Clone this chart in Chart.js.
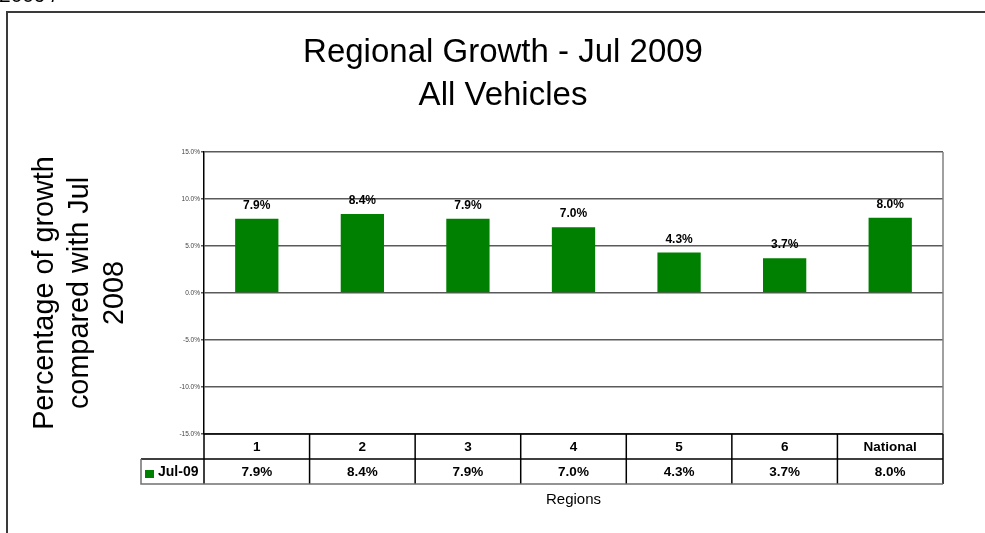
<!DOCTYPE html>
<html>
<head>
<meta charset="utf-8">
<title>Regional Growth - Jul 2009</title>
<script src="https://cdn.jsdelivr.net/npm/chart.js@4.4.0/dist/chart.umd.min.js"></script>
<style>
    html, body { margin: 0; padding: 0; background: #fff; }
    #chart { display: block; }
</style>
</head>
<body>
<canvas id="chart" width="985" height="533"></canvas>
<script>
// Chart data
const categories = ['1', '2', '3', '4', '5', '6', 'National'];
const growth = [7.9, 8.4, 7.9, 7.0, 4.3, 3.7, 8.0];
const seriesLabel = 'Jul-09';
const yTicks = [-15, -10, -5, 0, 5, 10, 15];
const titleLines = ['Regional Growth - Jul 2009', 'All Vehicles'];
const yTitleLines = ['Percentage of growth', 'compared with Jul', '2008'];
const xTitle = 'Regions';
const cutText = '2009 /';

const FONT = 'Arial, "Liberation Sans", Helvetica, sans-serif';
const GREEN = '#008000';

function pct(v) {
    return v.toFixed(1) + '%';
}

// Frame, titles, data labels, data table and axis caption
const decorPlugin = {
    id: 'decor',
    beforeDraw(chart) {
        const ctx = chart.ctx;
        ctx.save();
        ctx.fillStyle = '#000';
        ctx.font = '21px ' + FONT;
        ctx.textAlign = 'left';
        ctx.textBaseline = 'alphabetic';
        ctx.fillText(cutText, -1, 2);
        ctx.strokeStyle = '#3a3a3a';
        ctx.lineWidth = 2;
        ctx.strokeRect(7, 12, 1100, 700);

        // main title, centred on the frame
        ctx.font = '33px ' + FONT;
        ctx.textAlign = 'center';
        ctx.fillText(titleLines[0], 503, 62);
        ctx.fillText(titleLines[1], 503, 105);
        ctx.restore();
    },
    afterDatasetsDraw(chart) {
        const ctx = chart.ctx;
        const area = chart.chartArea;
        const x = chart.scales.x;
        const meta = chart.getDatasetMeta(0);
        ctx.save();

        // labels above the bars
        ctx.fillStyle = '#000';
        ctx.font = 'bold 12px ' + FONT;
        ctx.textAlign = 'center';
        ctx.textBaseline = 'alphabetic';
        meta.data.forEach((bar, i) => {
            ctx.fillText(pct(growth[i]), bar.x, bar.y - 10);
        });

        // right border of the plot area
        ctx.strokeStyle = '#808080';
        ctx.lineWidth = 1.5;
        ctx.beginPath();
        ctx.moveTo(area.right, area.top);
        ctx.lineTo(area.right, area.bottom);
        ctx.stroke();

        // data table
        const rowH = 25;
        const top = area.bottom;
        const mid = top + rowH;
        const bot = mid + rowH;
        const legendLeft = 141;
        const step = (area.right - area.left) / categories.length;

        ctx.strokeStyle = '#000';
        ctx.lineWidth = 1.5;
        ctx.beginPath();
        ctx.moveTo(area.left, top);
        ctx.lineTo(area.right, top);
        ctx.moveTo(legendLeft, mid);
        ctx.lineTo(area.right, mid);
        for (let i = 0; i <= categories.length; i++) {
            const xx = area.left + i * step;
            ctx.moveTo(xx, top);
            ctx.lineTo(xx, bot);
        }
        ctx.stroke();

        ctx.strokeStyle = '#707070';
        ctx.beginPath();
        ctx.moveTo(legendLeft, mid);
        ctx.lineTo(legendLeft, bot);
        ctx.lineTo(area.right, bot);
        ctx.stroke();

        ctx.fillStyle = '#000';
        ctx.font = 'bold 13.5px ' + FONT;
        ctx.textAlign = 'center';
        ctx.textBaseline = 'middle';
        categories.forEach((c, i) => {
            const cx = x.getPixelForValue(i);
            ctx.fillText(c, cx, top + rowH / 2 + 1);
            ctx.fillText(pct(growth[i]), cx, mid + rowH / 2 + 1);
        });

        // legend key in the table
        ctx.fillStyle = GREEN;
        ctx.fillRect(145, mid + 11, 9, 8);
        ctx.fillStyle = '#000';
        ctx.textAlign = 'left';
        ctx.font = 'bold 14px ' + FONT;
        ctx.fillText(seriesLabel, 158, mid + rowH / 2 + 1);

        // x axis caption
        ctx.font = '15px ' + FONT;
        ctx.textAlign = 'center';
        ctx.fillText(xTitle, (area.left + area.right) / 2, bot + 16);
        ctx.restore();
    }
};

const ctx = document.getElementById('chart').getContext('2d');
const chart = new Chart(ctx, {
    type: 'bar',
    data: {
        labels: categories,
        datasets: [{
            label: seriesLabel,
            data: growth,
            backgroundColor: GREEN,
            borderWidth: 0,
            categoryPercentage: 1.0,
            barPercentage: 0.41
        }]
    },
    options: {
        responsive: false,
        animation: false,
        devicePixelRatio: 1,
        layout: {
            padding: { top: 152, left: 20, right: 42, bottom: 99 }
        },
        plugins: {
            legend: { display: false },
            tooltip: { enabled: false },
            title: { display: false }
        },
        scales: {
            x: {
                display: false
            },
            y: {
                min: -15,
                max: 15,
                afterBuildTicks(scale) {
                    scale.ticks = yTicks.map(v => ({ value: v }));
                },
                afterFit(scale) {
                    scale.width = 184;
                },
                ticks: {
                    color: '#444',
                    padding: 1,
                    font: { family: FONT, size: 6.5 },
                    callback: (v) => pct(v)
                },
                grid: {
                    color: '#5a5a5a',
                    lineWidth: 1.6,
                    tickLength: 3
                },
                border: { color: '#000', width: 1.5 },
                title: {
                    display: true,
                    text: yTitleLines,
                    color: '#000',
                    font: { family: FONT, size: 28.8, weight: 'normal', lineHeight: 1.215 },
                    padding: { top: 8, bottom: 0 }
                }
            }
        }
    },
    plugins: [decorPlugin]
});
</script>
</body>
</html>
